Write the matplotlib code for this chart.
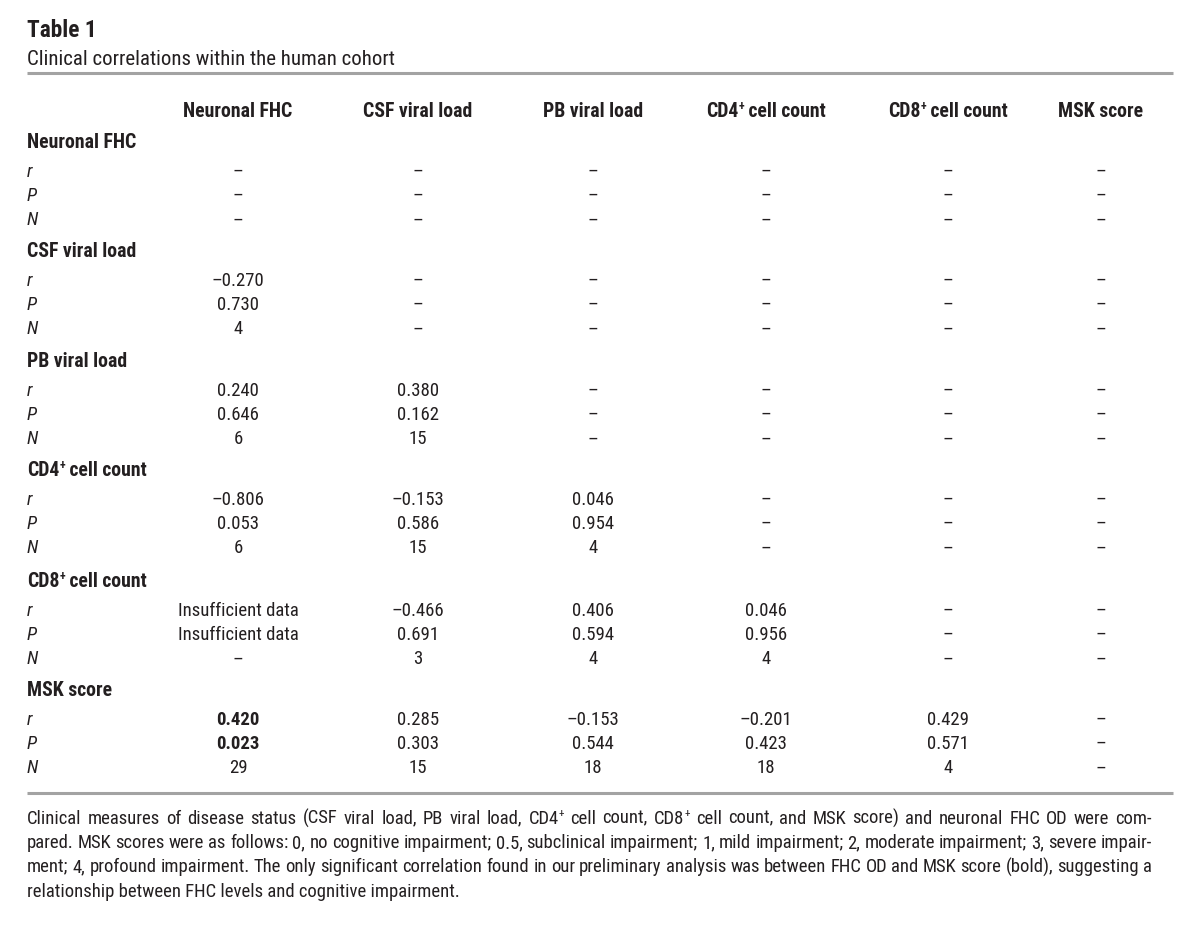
import os
import matplotlib
matplotlib.use('Agg')
import matplotlib.pyplot as plt
from matplotlib import font_manager
from matplotlib.font_manager import FontProperties

# ---- data ----
title = 'Table 1'
subtitle = 'Clinical correlations within the human cohort'
columns = ['Neuronal FHC', 'CSF viral load', 'PB viral load',
           'CD4^+ cell count', 'CD8^+ cell count', 'MSK score']
sections = ['Neuronal FHC', 'CSF viral load', 'PB viral load',
            'CD4^+ cell count', 'CD8^+ cell count', 'MSK score']
stats = ['r', 'P', 'N']
D = '–'
r_vals = [
    [D, D, D, D, D, D],
    ['–0.270', D, D, D, D, D],
    ['0.240', '0.380', D, D, D, D],
    ['–0.806', '–0.153', '0.046', D, D, D],
    ['Insufficient data', '–0.466', '0.406', '0.046', D, D],
    ['0.420', '0.285', '–0.153', '–0.201', '0.429', D],
]
p_vals = [
    [D, D, D, D, D, D],
    ['0.730', D, D, D, D, D],
    ['0.646', '0.162', D, D, D, D],
    ['0.053', '0.586', '0.954', D, D, D],
    ['Insufficient data', '0.691', '0.594', '0.956', D, D],
    ['0.023', '0.303', '0.544', '0.423', '0.571', D],
]
n_vals = [
    [D, D, D, D, D, D],
    ['4', D, D, D, D, D],
    ['6', '15', D, D, D, D],
    ['6', '15', '4', D, D, D],
    [D, '3', '4', '4', D, D],
    ['29', '15', '18', '18', '4', D],
]
bold_cells = [(5, 0, 'r'), (5, 0, 'P')]
footnote = [
    'Clinical measures of disease status (CSF viral load, PB viral load, CD4^+ cell count, CD8^+ cell count, and MSK score) and neuronal FHC OD were com-',
    'pared. MSK scores were as follows: 0, no cognitive impairment; 0.5, subclinical impairment; 1, mild impairment; 2, moderate impairment; 3, severe impair-',
    'ment; 4, profound impairment. The only significant correlation found in our preliminary analysis was between FHC OD and MSK score (bold), suggesting a',
    'relationship between FHC levels and cognitive impairment.',
]

# ---- fonts: look for a narrow sans, else Liberation Sans ----
allfiles = font_manager.findSystemFonts() + [f.fname for f in font_manager.fontManager.ttflist]
bynm = {}
for f in allfiles:
    bynm.setdefault(os.path.basename(f), f)
choices = [
    ('LiberationSansNarrow-Regular.ttf', 'LiberationSansNarrow-Bold.ttf', 'LiberationSansNarrow-Italic.ttf'),
    ('RobotoCondensed-Regular.ttf', 'RobotoCondensed-Bold.ttf', 'RobotoCondensed-Italic.ttf'),
    ('DejaVuSansCondensed.ttf', 'DejaVuSansCondensed-Bold.ttf', 'DejaVuSansCondensed-Oblique.ttf'),
    ('LiberationSans-Regular.ttf', 'LiberationSans-Bold.ttf', 'LiberationSans-Italic.ttf'),
]
fp_reg = FontProperties(family='Liberation Sans')
fp_bold = FontProperties(family='Liberation Sans', weight='bold')
fp_it = FontProperties(family='Liberation Sans', style='italic')
for reg, bld, it in choices:
    if reg in bynm and bld in bynm and it in bynm:
        fp_reg = FontProperties(fname=bynm[reg])
        fp_bold = FontProperties(fname=bynm[bld])
        fp_it = FontProperties(fname=bynm[it])
        break

W, H = 1200, 942
fig = plt.figure(figsize=(W / 100, H / 100), dpi=100)
ax = fig.add_axes([0, 0, 1, 1])
ax.set_xlim(0, W)
ax.set_ylim(H, 0)
ax.axis('off')
fig.canvas.draw()
renderer = fig.canvas.get_renderer()

tc = '#231f20'
x0 = 27
col_x = [238, 418, 593, 766, 948, 1101]


def sized(fp, size):
    f = fp.copy()
    f.set_size(size)
    return f


def width(s, fp, size):
    t = ax.text(0, 0, s, fontproperties=sized(fp, size))
    w = t.get_window_extent(renderer).width
    t.remove()
    return w


def runs_of(s):
    parts = s.split('^+')
    runs = []
    for k, p in enumerate(parts):
        if p:
            runs.append((p, False))
        if k < len(parts) - 1:
            runs.append(('+', True))
    return runs


def runs_width(s, fp, size):
    return sum(width(p, fp, size * 0.6 if sup else size) for p, sup in runs_of(s))


def fit(s, fp, target):
    return 10 * target / runs_width(s, fp, 10)


def draw(x, y, s, fp, size, ha='left'):
    runs = runs_of(s)
    ws = [width(p, fp, size * 0.6 if sup else size) for p, sup in runs]
    if ha == 'center':
        x = x - sum(ws) / 2
    px = size * 100 / 72
    base = y + 0.36 * px
    for (p, sup), w in zip(runs, ws):
        yy = base - 0.38 * px if sup else base
        ax.text(x, yy, p, fontproperties=sized(fp, size * 0.6 if sup else size),
                color=tc, va='baseline', ha='left')
        x += w


def draw_justified(x, y, s, fp, size, total):
    words = s.split(' ')
    ws = [runs_width(w, fp, size) for w in words]
    gap = (total - sum(ws)) / (len(words) - 1)
    for w, ww in zip(words, ws):
        draw(x, y, w, fp, size)
        x += ww + gap


s_title = fit(title, fp_bold, 70)
s_sub = fit(subtitle, fp_reg, 365)
s_head = fit('Neuronal FHC', fp_bold, 108)
s_body = fit('Insufficient data', fp_reg, 120)
foot_w = 1125
s_foot = min(fit(line, fp_reg, foot_w - 8) for line in footnote[:3])

draw(x0, 29, title, fp_bold, s_title)
draw(x0, 57, subtitle, fp_reg, s_sub)
ax.plot([x0, 1173], [72.5, 72.5], color='#a3a3a3', lw=2.2, solid_capstyle='butt')

for x, c in zip(col_x, columns):
    draw(x, 110, c, fp_bold, s_head, ha='center')

sec_y = [141, 250, 360, 469, 580, 689]
vals = {'r': r_vals, 'P': p_vals, 'N': n_vals}
for i, (sy, s) in enumerate(zip(sec_y, sections)):
    draw(x0, sy, s, fp_bold, s_head)
    for k, st in enumerate(stats):
        y = sy + 29 + k * 24.3
        draw(x0, y, st, fp_it, s_body)
        for j, x in enumerate(col_x):
            v = vals[st][i][j]
            f = fp_bold if (i, j, st) in bold_cells else fp_reg
            draw(x, y, v, f, s_body, ha='center')

ax.plot([x0, 1173], [792.5, 792.5], color='#a3a3a3', lw=2.2, solid_capstyle='butt')

for k, line in enumerate(footnote):
    y = 817 + k * 24.3
    if k < 3:
        draw_justified(x0, y, line, fp_reg, s_foot, foot_w)
    else:
        draw(x0, y, line, fp_reg, s_foot)

fig.savefig('out.png', dpi=100, facecolor='white')
